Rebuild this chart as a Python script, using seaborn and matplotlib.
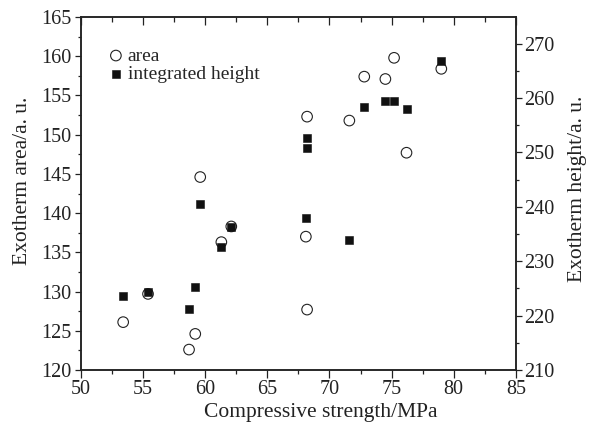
import matplotlib
matplotlib.use("Agg")
import matplotlib.pyplot as plt
from matplotlib.ticker import MultipleLocator
import numpy as np
import pandas as pd
import seaborn as sns

# Exotherm area (left axis)
AREA_X = [53.4, 55.4, 58.7, 59.2, 59.6, 61.3, 62.1, 68.1, 68.2, 68.2, 71.6, 72.8, 74.5, 75.2, 76.2, 79.0]
AREA_Y = [126.1, 129.7, 122.6, 124.6, 144.6, 136.3, 138.3, 137.0, 127.7, 152.3, 151.8, 157.4, 157.1, 159.8, 147.7, 158.4]

# Integrated exotherm height (right axis)
HEIGHT_X = [53.4, 55.4, 58.7, 59.2, 59.6, 61.3, 62.1, 68.2, 68.2, 68.1, 71.6, 72.8, 74.5, 75.2, 76.2, 79.0]
HEIGHT_Y = [223.6, 224.3, 221.3, 225.3, 240.5, 232.6, 236.3, 252.6, 250.8, 237.9, 233.9, 258.4, 259.4, 259.4, 257.9, 266.9]

X_LABEL = "Compressive strength/MPa"
Y_LEFT_LABEL = "Exotherm area/a. u."
Y_RIGHT_LABEL = "Exotherm height/a. u."

sns.set_style("ticks")
plt.rcParams["font.family"] = ["Liberation Serif", "DejaVu Serif"]
INK = "#222222"
TICK_FS = 14.5
LABEL_FS = 15.5

area = pd.DataFrame({"strength": AREA_X, "area": AREA_Y})
height = pd.DataFrame({"strength": HEIGHT_X, "height": HEIGHT_Y})

fig = plt.figure(figsize=(5.95, 4.26), dpi=100)
ax = fig.add_axes([0.136, 0.1315, 0.731, 0.8285])
ax2 = ax.twinx()

sns.scatterplot(data=area, x="strength", y="area", ax=ax, marker="o", s=58,
                facecolor="none", edgecolor="#222222", linewidth=0.8, label="area", legend=False)
sns.scatterplot(data=height, x="strength", y="height", ax=ax2, marker="s", s=36,
                color="#111111", edgecolor="#111111", linewidth=0.4, label="integrated height", legend=False)

ax.set_xlim(50, 85)
ax.set_ylim(120, 165)
ax2.set_ylim(210, 274.9)

ax.xaxis.set_major_locator(MultipleLocator(5))
ax.xaxis.set_minor_locator(MultipleLocator(2.5))
ax.yaxis.set_major_locator(MultipleLocator(5))
ax.yaxis.set_minor_locator(MultipleLocator(2.5))
ax2.yaxis.set_major_locator(MultipleLocator(10))
ax2.yaxis.set_minor_locator(MultipleLocator(5))

# bottom ticks point out, top ticks point in
ax.tick_params(axis="x", which="both", direction="out", top=False, bottom=True,
               colors=INK, labelsize=TICK_FS, pad=2)
top = ax.secondary_xaxis("top")
top.xaxis.set_major_locator(MultipleLocator(5))
top.xaxis.set_minor_locator(MultipleLocator(2.5))
top.tick_params(axis="x", which="both", direction="in", labeltop=False, colors=INK)
top.tick_params(which="major", length=5.5, width=0.9)
top.tick_params(which="minor", length=3.5, width=0.9)
top.spines["top"].set_visible(False)

ax.tick_params(axis="y", which="both", direction="out", colors=INK, labelsize=TICK_FS, pad=2.5)
ax2.tick_params(axis="y", which="both", direction="out", colors=INK, labelsize=TICK_FS, pad=1.5)
ax.tick_params(axis="x", which="major", length=5.5, width=0.9)
ax.tick_params(axis="x", which="minor", length=3.0, width=0.9)
for a in (ax, ax2):
    a.tick_params(axis="y", which="major", length=4.5, width=0.9)
    a.tick_params(axis="y", which="minor", length=2.5, width=0.9)
    for sp in a.spines.values():
        sp.set_visible(True)
        sp.set_color(INK)
        sp.set_linewidth(1.1)

ax.set_xlabel(X_LABEL, fontsize=LABEL_FS, color=INK)
ax.set_ylabel(Y_LEFT_LABEL, fontsize=LABEL_FS, color=INK)
ax2.set_ylabel(Y_RIGHT_LABEL, fontsize=LABEL_FS, color=INK)
ax.xaxis.set_label_coords(0.551, -0.094)
ax.yaxis.set_label_coords(-0.112, 0.535)
ax2.yaxis.set_label_coords(1.12, 0.513)

h1, l1 = ax.get_legend_handles_labels()
h2, l2 = ax2.get_legend_handles_labels()
ax.legend(h1 + h2, l1 + l2, loc="upper left", bbox_to_anchor=(0.067, 0.915),
          frameon=False, fontsize=14, borderaxespad=0, borderpad=0,
          handletextpad=0.3, labelspacing=0.05, handlelength=0.6)

fig.savefig("out.png", dpi=100)
